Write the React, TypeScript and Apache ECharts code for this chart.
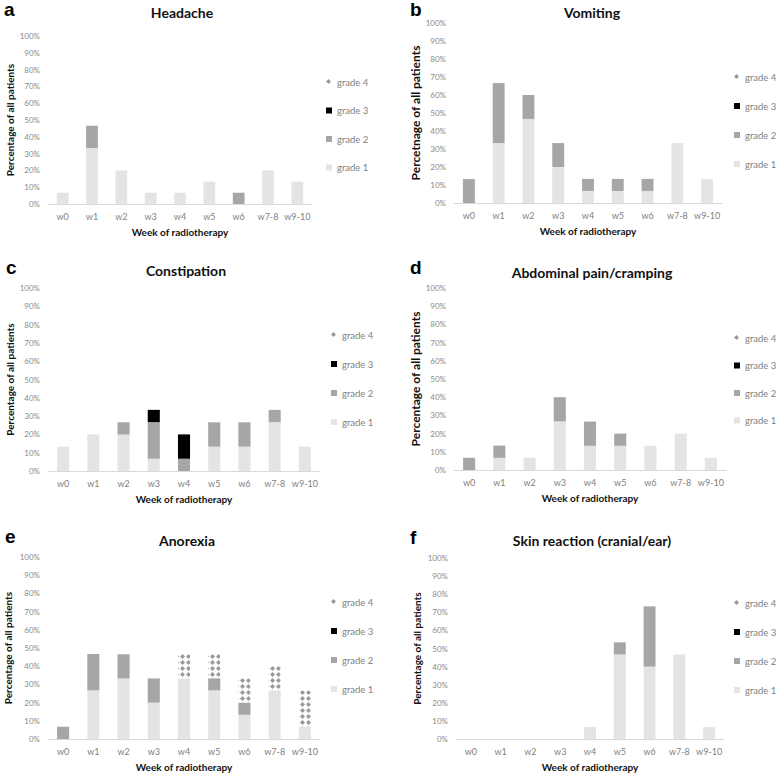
import React, { useEffect, useRef } from "react";
import * as echarts from "echarts";

const categories = ["w0", "w1", "w2", "w3", "w4", "w5", "w6", "w7-8", "w9-10"];
const gradeNames = ["grade 1", "grade 2", "grade 3", "grade 4"];
const legendOrder = ["grade 4", "grade 3", "grade 2", "grade 1"];
const yTicks = [0, 10, 20, 30, 40, 50, 60, 70, 80, 90, 100];

// a Headache
const headacheG1 = [6.7, 33.3, 20, 6.7, 6.7, 13.3, 0, 20, 13.3];
const headacheG2 = [0, 13.3, 0, 0, 0, 0, 6.7, 0, 0];
const headacheG3 = [0, 0, 0, 0, 0, 0, 0, 0, 0];
const headacheG4 = [0, 0, 0, 0, 0, 0, 0, 0, 0];
// b Vomiting
const vomitingG1 = [0, 33.3, 46.7, 20, 6.7, 6.7, 6.7, 33.3, 13.3];
const vomitingG2 = [13.3, 33.3, 13.3, 13.3, 6.7, 6.7, 6.7, 0, 0];
const vomitingG3 = [0, 0, 0, 0, 0, 0, 0, 0, 0];
const vomitingG4 = [0, 0, 0, 0, 0, 0, 0, 0, 0];
// c Constipation
const constipationG1 = [13.3, 20, 20, 6.7, 0, 13.3, 13.3, 26.7, 13.3];
const constipationG2 = [0, 0, 6.7, 20, 6.7, 13.3, 13.3, 6.7, 0];
const constipationG3 = [0, 0, 0, 6.7, 13.3, 0, 0, 0, 0];
const constipationG4 = [0, 0, 0, 0, 0, 0, 0, 0, 0];
// d Abdominal pain/cramping
const abdominalG1 = [0, 6.7, 6.7, 26.7, 13.3, 13.3, 13.3, 20, 6.7];
const abdominalG2 = [6.7, 6.7, 0, 13.3, 13.3, 6.7, 0, 0, 0];
const abdominalG3 = [0, 0, 0, 0, 0, 0, 0, 0, 0];
const abdominalG4 = [0, 0, 0, 0, 0, 0, 0, 0, 0];
// e Anorexia
const anorexiaG1 = [0, 26.7, 33.3, 20, 33.3, 26.7, 13.3, 26.7, 6.7];
const anorexiaG2 = [6.7, 20, 13.3, 13.3, 0, 6.7, 6.7, 0, 0];
const anorexiaG3 = [0, 0, 0, 0, 0, 0, 0, 0, 0];
const anorexiaG4 = [0, 0, 0, 0, 13.3, 13.3, 13.3, 13.3, 20];
// f Skin reaction
const skinG1 = [0, 0, 0, 0, 6.7, 46.7, 40, 46.7, 6.7];
const skinG2 = [0, 0, 0, 0, 0, 6.7, 33.3, 0, 0];
const skinG3 = [0, 0, 0, 0, 0, 0, 0, 0, 0];
const skinG4 = [0, 0, 0, 0, 0, 0, 0, 0, 0];

const panels = [
  { letter: "a", title: "Headache", yName: "Percentage of all patients", data: [headacheG1, headacheG2, headacheG3, headacheG4],
    grid: { left: 48, top: 36, width: 264, height: 168 }, yNameSize: 10, yGap: 33,
    titleX: 182, titleTop: 5, letterX: 4, letterTop: 0, legendLeft: 326, legendTop: 76, legendGap: 16.5 },
  { letter: "b", title: "Vomiting", yName: "Percetnage of all patients", data: [vomitingG1, vomitingG2, vomitingG3, vomitingG4],
    grid: { left: 454, top: 23, width: 268, height: 180 }, yNameSize: 12, yGap: 32,
    titleX: 592, titleTop: 5, letterX: 410, letterTop: 0, legendLeft: 734, legendTop: 71, legendGap: 17 },
  { letter: "c", title: "Constipation", yName: "Percentage of all patients", data: [constipationG1, constipationG2, constipationG3, constipationG4],
    grid: { left: 48, top: 288, width: 272, height: 183 }, yNameSize: 10, yGap: 33,
    titleX: 186, titleTop: 263, letterX: 6, letterTop: 258, legendLeft: 331, legendTop: 329, legendGap: 17 },
  { letter: "d", title: "Abdominal pain/cramping", yName: "Percentage of all patients", data: [abdominalG1, abdominalG2, abdominalG3, abdominalG4],
    grid: { left: 454, top: 288, width: 272, height: 182 }, yNameSize: 12, yGap: 32,
    titleX: 592, titleTop: 265, letterX: 410, letterTop: 258, legendLeft: 734, legendTop: 332, legendGap: 15.5 },
  { letter: "e", title: "Anorexia", yName: "Percentage of all patients", data: [anorexiaG1, anorexiaG2, anorexiaG3, anorexiaG4],
    grid: { left: 48, top: 557, width: 272, height: 182 }, yNameSize: 10, yGap: 35,
    titleX: 187, titleTop: 533, letterX: 5, letterTop: 527, legendLeft: 331, legendTop: 596, legendGap: 17 },
  { letter: "f", title: "Skin reaction (cranial/ear)", yName: "Percentage of all patients", data: [skinG1, skinG2, skinG3, skinG4],
    grid: { left: 456, top: 558, width: 268, height: 181 }, yNameSize: 10, yGap: 34,
    titleX: 592, titleTop: 533, letterX: 410, letterTop: 528, legendLeft: 734, legendTop: 597, legendGap: 17 },
];

const FONT = "Lato, 'Liberation Sans', sans-serif";
const gradeColors = ["#e4e4e4", "#a6a6a6", "#000000", "#ffffff"];
const grade4Decal = {
  symbol: "diamond",
  symbolSize: 1,
  color: "#9a9a9a",
  dashArrayX: [5, 1],
  dashArrayY: [5, 0.8],
};

export default function App() {
  const ref = useRef<HTMLDivElement>(null);
  useEffect(() => {
    if (!ref.current) return;
    const chart = echarts.init(ref.current, null, { renderer: "svg" });
    const titles: any[] = [];
    const grids: any[] = [];
    const xAxes: any[] = [];
    const yAxes: any[] = [];
    const legends: any[] = [];
    const series: any[] = [];
    panels.forEach((p, i) => {
      titles.push({
        text: p.title, left: p.titleX, top: p.titleTop, textAlign: "center", padding: 0,
        textStyle: { fontFamily: FONT, fontSize: 14, fontWeight: "bold", color: "#111" },
      });
      titles.push({
        text: p.letter, left: p.letterX, top: p.letterTop, padding: 0,
        textStyle: { fontFamily: "'Liberation Sans', Arial, sans-serif", fontSize: 19, fontWeight: "bold", color: "#000" },
      });
      grids.push({ ...p.grid, containLabel: false });
      xAxes.push({
        type: "category", gridIndex: i, data: categories,
        name: "Week of radiotherapy", nameLocation: "middle", nameGap: 23,
        nameTextStyle: { fontFamily: FONT, fontSize: 10, fontWeight: "bold", color: "#111" },
        axisLine: { lineStyle: { color: "#d9d9d9", width: 1 } },
        axisTick: { show: false },
        axisLabel: { fontFamily: FONT, fontSize: 9, color: "#7f7f7f", margin: 8, interval: 0 },
      });
      yAxes.push({
        type: "value", gridIndex: i, min: yTicks[0], max: yTicks[yTicks.length - 1], interval: 10,
        name: p.yName, nameLocation: "middle", nameGap: p.yGap, nameRotate: 90,
        nameTextStyle: { fontFamily: FONT, fontSize: p.yNameSize, fontWeight: "bold", color: "#111" },
        axisLine: { show: false }, axisTick: { show: false }, splitLine: { show: false },
        axisLabel: { fontFamily: FONT, fontSize: 8, color: "#8a8a8a", margin: 8, formatter: "{value}%" },
      });
      legends.push({
        data: legendOrder, orient: "vertical", left: p.legendLeft, top: p.legendTop,
        itemWidth: 6, itemHeight: 6, itemGap: p.legendGap, icon: "rect", padding: 0,
        selectedMode: false,
        textStyle: { fontFamily: FONT, fontSize: 9.5, color: "#7f7f7f", lineHeight: 12 },
      });
      gradeNames.forEach((g, gi) => {
        series.push({
          type: "bar", name: g, stack: "s" + i, xAxisIndex: i, yAxisIndex: i,
          data: p.data[gi], barWidth: "40%",
          itemStyle: gi === 3 ? { color: gradeColors[gi], decal: grade4Decal } : { color: gradeColors[gi] },
          emphasis: { disabled: true },
        });
      });
    });
    chart.setOption({
      animation: false,
      backgroundColor: "#ffffff",
      title: titles,
      grid: grids,
      xAxis: xAxes,
      yAxis: yAxes,
      legend: legends,
      series,
    });
    return () => chart.dispose();
  }, []);
  return (
    <div
      ref={ref}
      style={{ position: "fixed", left: 0, top: 0, width: 778, height: 776, background: "#fff" }}
    />
  );
}
